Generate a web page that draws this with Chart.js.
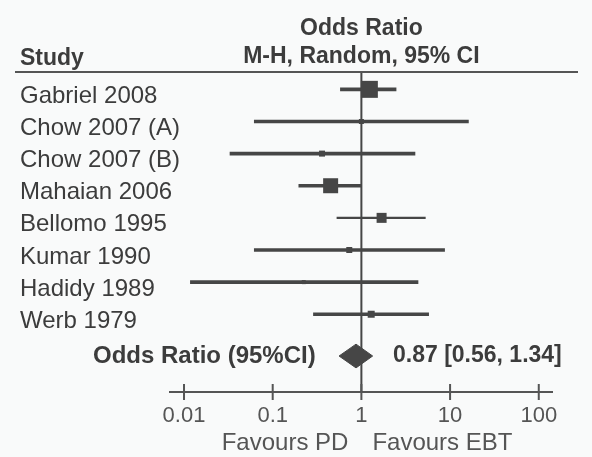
<!DOCTYPE html>
<html>
<head>
<meta charset="utf-8">
<script src="https://cdn.jsdelivr.net/npm/chart.js@4.4.1/dist/chart.umd.min.js"></script>
<style>
  body { margin: 0; background: #f9fafa; }
  canvas { display: block; }
</style>
</head>
<body>
<canvas id="myChart" width="592" height="457"></canvas>
<script>
const studies = ['Gabriel 2008', 'Chow 2007 (A)', 'Chow 2007 (B)', 'Mahaian 2006', 'Bellomo 1995', 'Kumar 1990', 'Hadidy 1989', 'Werb 1979'];
const oddsRatio = [1.23, 1.0, 0.36, 0.45, 1.69, 0.73, 0.224, 1.29];
const ciLow = [0.58, 0.062, 0.033, 0.197, 0.53, 0.062, 0.0118, 0.288];
const ciHigh = [2.46, 16.1, 4.02, 1.0, 5.26, 8.67, 4.35, 5.73];
const weightBox = [17, 5, 6, 15, 10, 6, 4, 7];
const lineWidth = [3, 3, 3, 3, 1.5, 3, 3, 3];

const summaryLabel = 'Odds Ratio (95%CI)';
const summary = [0.87, 0.56, 1.34]; // estimate, low, high

const tickValues = [0.01, 0.1, 1, 10, 100];
const tickLabels = ['0.01', '0.1', '1', '10', '100'];

const ink = '#464646';
const rows = studies.map((s, i) => i + 1);
const summaryRow = 9.3;
const yMin = 0.46;
const yMax = 10.42;

const ciData = (thick) => rows
  .filter((r, i) => (lineWidth[i] === 3) === thick)
  .map((r) => ({ x: [ciLow[r - 1], ciHigh[r - 1]], y: r }));

// text, header rule and cross ticks
const extras = {
  id: 'extras',
  afterDraw(chart) {
    const { ctx, chartArea } = chart;
    const x = chart.scales.x;
    const y = chart.scales.y;
    const one = x.getPixelForValue(1);
    ctx.save();
    ctx.strokeStyle = '#555';
    ctx.lineWidth = 2;
    ctx.beginPath();
    ctx.moveTo(15, chartArea.top);
    ctx.lineTo(578, chartArea.top);
    x.ticks.forEach((t) => {
      const px = x.getPixelForValue(t.value);
      ctx.moveTo(px, chartArea.bottom - 8);
      ctx.lineTo(px, chartArea.bottom + 8);
    });
    ctx.stroke();

    ctx.textBaseline = 'middle';
    ctx.fillStyle = '#3c3c3c';
    ctx.font = 'bold 23px "Liberation Sans"';
    ctx.textAlign = 'center';
    ctx.fillText('Odds Ratio', one, 29);
    ctx.fillText('M-H, Random, 95% CI', one, 57);
    ctx.textAlign = 'left';
    ctx.fillText('Study', 20, 59);
    const sy = y.getPixelForValue(summaryRow);
    ctx.fillText(summary[0].toFixed(2) + ' [' + summary[1].toFixed(2) + ', ' + summary[2].toFixed(2) + ']', 393, sy);
    ctx.font = 'bold 24px "Liberation Sans"';
    ctx.fillText(summaryLabel, 93, sy);

    ctx.font = '24px "Liberation Sans"';
    studies.forEach((s, i) => {
      ctx.fillText(s, 20, y.getPixelForValue(rows[i]) + 7);
    });

    ctx.fillStyle = '#555';
    ctx.textAlign = 'right';
    ctx.fillText('Favours PD', one - 13, 443);
    ctx.textAlign = 'left';
    ctx.fillText('Favours EBT', one + 11, 443);
    ctx.restore();
  },
};

// eslint-disable-next-line no-new
new Chart(document.getElementById('myChart'), {
  type: 'scatter',
  data: {
    datasets: [
      {
        data: [
          { x: summary[1], y: summaryRow },
          { x: summary[0], y: summaryRow - 0.37 },
          { x: summary[2], y: summaryRow },
          { x: summary[0], y: summaryRow + 0.37 },
          { x: summary[1], y: summaryRow },
        ],
        showLine: true,
        fill: 'shape',
        backgroundColor: ink,
        borderColor: ink,
        borderWidth: 1,
        pointRadius: 0,
      },
      {
        data: rows.map((r, i) => ({ x: oddsRatio[i], y: r })),
        pointStyle: 'rect',
        pointRadius: weightBox.map((s) => s / Math.SQRT2),
        backgroundColor: ink,
        borderWidth: 0,
      },
      {
        type: 'bar',
        indexAxis: 'y',
        data: ciData(true),
        barThickness: 3,
        grouped: false,
        backgroundColor: ink,
      },
      {
        type: 'bar',
        indexAxis: 'y',
        data: ciData(false),
        barThickness: 1.5,
        grouped: false,
        backgroundColor: ink,
      },
      {
        data: [{ x: 1, y: yMin }, { x: 1, y: yMax }],
        showLine: true,
        borderColor: ink,
        borderWidth: 2,
        pointRadius: 0,
      },
    ],
  },
  options: {
    responsive: false,
    animation: false,
    events: [],
    layout: { padding: { left: 170, right: 40, top: 72, bottom: 0 } },
    plugins: { legend: { display: false }, tooltip: { enabled: false } },
    scales: {
      x: {
        type: 'logarithmic',
        min: 0.00695,
        max: 141,
        afterBuildTicks: (scale) => {
          scale.ticks = tickValues.map((v) => ({ value: v }));
        },
        afterFit: (scale) => {
          scale.height = 65;
        },
        grid: { display: false, drawTicks: false },
        border: { display: true, color: '#555', width: 2 },
        ticks: {
          autoSkip: false,
          maxRotation: 0,
          padding: 11,
          color: '#555',
          font: { family: 'Liberation Sans', size: 22 },
          callback: (v, i) => tickLabels[i],
        },
      },
      y: {
        type: 'linear',
        display: false,
        reverse: true,
        offset: false,
        min: yMin,
        max: yMax,
      },
    },
  },
  plugins: [extras],
});
</script>
</body>
</html>
